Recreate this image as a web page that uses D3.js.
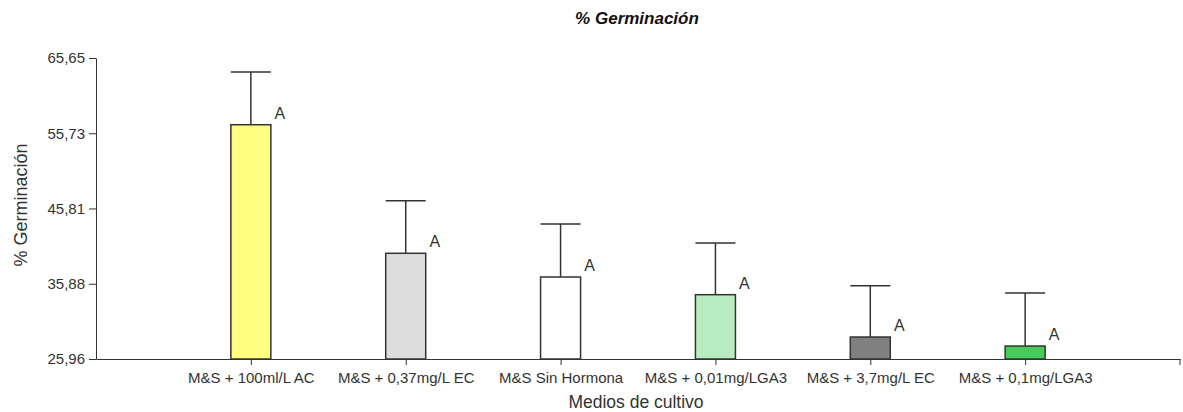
<!DOCTYPE html>
<html lang="es">
<head>
    <meta charset="UTF-8">
    <title>% Germinación</title>
    <script src="https://d3js.org/d3.v7.min.js"></script>
    <style>
        body { margin: 0; background: #fff; font-family: "Liberation Sans", Arial, sans-serif; }
        .axis text { font-size: 15px; fill: #333; font-family: "Liberation Sans", Arial, sans-serif; }
        .axis path, .axis line { stroke: #333; }
    </style>
</head>
<body>
<div id="chart"></div>
<script>
    // datos
    const categorias = ["M&S + 100ml/L AC", "M&S + 0,37mg/L EC", "M&S Sin Hormona",
        "M&S + 0,01mg/LGA3", "M&S + 3,7mg/L EC", "M&S + 0,1mg/LGA3"];
    const medias = [56.85, 39.90, 36.77, 34.44, 28.86, 27.67];
    const errores = [6.95, 6.93, 6.99, 6.82, 6.77, 6.99];
    const letras = ["A", "A", "A", "A", "A", "A"];
    const colores = ["#ffff80", "#dcdcdc", "#ffffff", "#b9ebc0", "#808080", "#45cc5a"];
    const yTicks = [25.96, 35.88, 45.81, 55.73, 65.65];

    const width = 1183, height = 412;
    const margin = { left: 96, right: 3, top: 58, bottom: 53 };

    const svg = d3.select("#chart").append("svg")
        .attr("width", width)
        .attr("height", height);

    const x = d3.scalePoint()
        .domain(categorias)
        .range([margin.left, width - margin.right])
        .padding(1);

    const y = d3.scaleLinear()
        .domain([yTicks[0], yTicks[yTicks.length - 1]])
        .range([height - margin.bottom, margin.top]);

    const fmt = d => d.toFixed(2).replace(".", ",");

    // ejes
    svg.append("g")
        .attr("class", "axis")
        .attr("transform", `translate(${margin.left},0)`)
        .call(d3.axisLeft(y).tickValues(yTicks).tickFormat(fmt).tickSize(7).tickSizeOuter(0))
        .call(g => g.selectAll("text").attr("x", -11));

    svg.append("g")
        .attr("class", "axis")
        .attr("transform", `translate(0,${height - margin.bottom})`)
        .call(d3.axisBottom(x).tickSize(6).tickSizeOuter(0))
        .call(g => g.selectAll("text").attr("y", 24).attr("dy", 0));

    // marca al final del eje x
    svg.append("line")
        .attr("x1", width - margin.right).attr("x2", width - margin.right)
        .attr("y1", height - margin.bottom).attr("y2", height - margin.bottom + 6)
        .attr("stroke", "#333");

    const bw = 40;

    // barras de error
    const err = svg.append("g").attr("stroke", "#333").attr("stroke-width", 1.5);
    err.selectAll("line.v")
        .data(categorias)
        .enter().append("line")
        .attr("x1", d => x(d)).attr("x2", d => x(d))
        .attr("y1", (d, i) => y(medias[i]))
        .attr("y2", (d, i) => y(medias[i] + errores[i]));
    err.selectAll("line.c")
        .data(categorias)
        .enter().append("line")
        .attr("x1", d => x(d) - bw / 2).attr("x2", d => x(d) + bw / 2)
        .attr("y1", (d, i) => y(medias[i] + errores[i]))
        .attr("y2", (d, i) => y(medias[i] + errores[i]));

    // barras
    svg.append("g")
        .selectAll("rect")
        .data(categorias)
        .enter().append("rect")
        .attr("x", d => x(d) - bw / 2)
        .attr("y", (d, i) => y(medias[i]))
        .attr("width", bw)
        .attr("height", (d, i) => y(yTicks[0]) - y(medias[i]))
        .attr("fill", (d, i) => colores[i])
        .attr("stroke", "#333")
        .attr("stroke-width", 1.5);

    // letras
    svg.append("g")
        .selectAll("text")
        .data(categorias)
        .enter().append("text")
        .attr("x", d => x(d) + 29)
        .attr("y", (d, i) => y(medias[i]) - 6)
        .attr("text-anchor", "middle")
        .attr("font-size", 16)
        .attr("fill", "#333")
        .text((d, i) => letras[i]);

    // titulos
    svg.append("text")
        .attr("x", 637).attr("y", 24)
        .attr("text-anchor", "middle")
        .attr("font-size", 17)
        .attr("font-weight", "bold")
        .attr("font-style", "italic")
        .attr("fill", "#111")
        .text("% Germinación");

    svg.append("text")
        .attr("x", 636).attr("y", 408)
        .attr("text-anchor", "middle")
        .attr("font-size", 17.5)
        .attr("fill", "#333")
        .text("Medios de cultivo");

    svg.append("text")
        .attr("transform", "translate(27,205) rotate(-90)")
        .attr("text-anchor", "middle")
        .attr("font-size", 18)
        .attr("fill", "#333")
        .text("% Germinación");
</script>
</body>
</html>
